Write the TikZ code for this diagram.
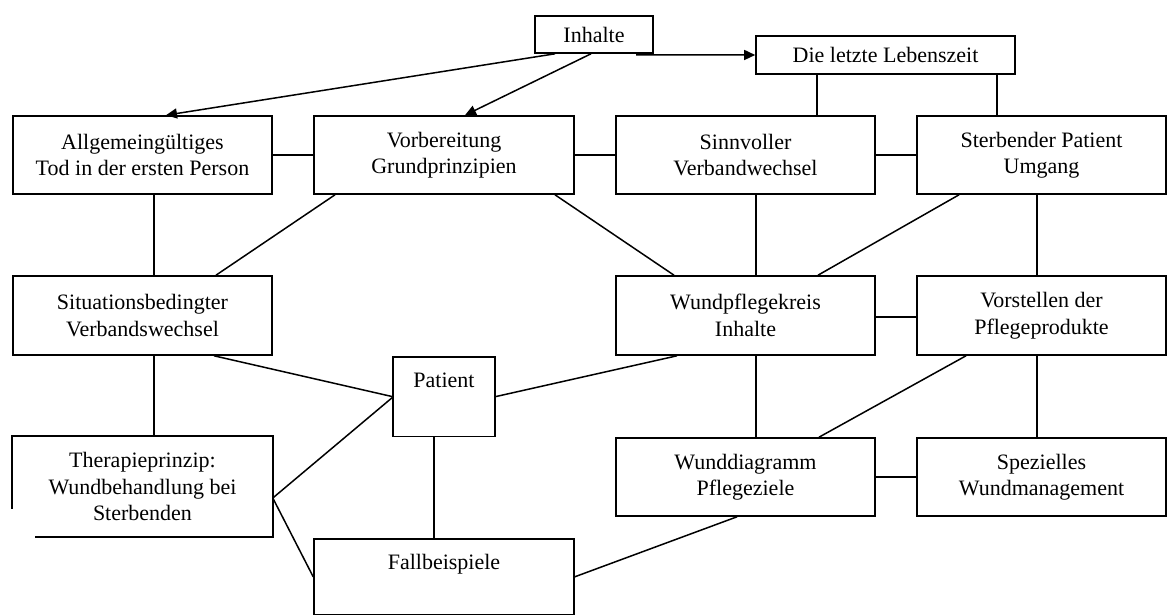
\documentclass[tikz,border=0pt]{standalone}
\usepackage{fontspec}
\setmainfont{Liberation Serif}
\usetikzlibrary{calc,arrows.meta}
\begin{document}
\begin{tikzpicture}[x=1pt,y=-1pt,
  box/.style={draw=black,line width=1.6pt,rectangle,inner sep=0pt,align=center,
    font=\fontsize{22}{26.5}\selectfont,minimum height=78pt},
  wide/.style={minimum width=259pt},
  conn/.style={line width=1.5pt,black},
  arr/.style={conn,-{Triangle[length=11pt,width=10pt]}}]
\useasboundingbox (0,0) rectangle (1168,615);
\fill[white] (0,0) rectangle (1168,615);
% nodes
\node[box,minimum width=118pt,minimum height=37pt] (inh) at (594,34.5) {Inhalte};
\node[box,minimum width=259pt,minimum height=38pt] (die) at (885.5,55) {Die letzte Lebenszeit};
\node[box,wide] (allg) at (142.5,155) {Allgemeingültiges\\Tod in der ersten Person};
\node[box,minimum width=260pt] (vorb) at (444,155) {Vorbereitung\\Grundprinzipien};
\node[box,wide] (sinn) at (745.5,155) {Sinnvoller\\Verbandwechsel};
\node[box,minimum width=249pt] (sterb) at (1041.5,155) {Sterbender Patient\\Umgang};
\node[box,wide,minimum height=79pt] (situ) at (142.5,315.5) {Situationsbedingter\\Verbandswechsel};
\node[box,wide,minimum height=79pt] (wundpf) at (745.5,315.5) {Wundpflegekreis\\Inhalte};
\node[box,minimum width=249pt,minimum height=79pt] (vorst) at (1041.5,315.5) {Vorstellen der\\Pflegeprodukte};
\node[box,draw=none,minimum width=100pt,minimum height=0pt,text height=30pt,text depth=48pt,anchor=north] (pat) at (444,357) {Patient};
\draw[line width=1.6pt] (pat.south west) rectangle (pat.north east);
\node[box,wide,draw=none,minimum height=99pt] (ther) at (142.5,486.5) {Therapieprinzip:\\Wundbehandlung bei\\Sterbenden};
\draw[line width=1.6pt] ($(ther.south west)+(0,-28)$) -- (ther.north west) -- (ther.north east) -- (ther.south east) -- ($(ther.south west)+(23,0)$);
\node[box,wide] (wdiag) at (745.5,477) {Wunddiagramm\\Pflegeziele};
\node[box,minimum width=249pt] (spez) at (1041.5,477) {Spezielles\\Wundmanagement};
\node[box,minimum width=260pt,minimum height=0pt,text height=31pt,text depth=45pt,anchor=north] (fall) at (444,538) {Fallbeispiele};
% arrows from Inhalte
\draw[arr] ([xshift=-39pt]inh.south) -- ([xshift=23.5pt]allg.north);
\draw[arr] ([xshift=-3pt]inh.south) -- ([xshift=21pt]vorb.north);
\draw[arr] ([xshift=42pt,yshift=-1pt]inh.south) -- (die.west);
% Die letzte Lebenszeit
\draw[conn] ([xshift=-68.5pt]die.south) -- ([xshift=-68.5pt]die.south |- sinn.north);
\draw[conn] ([xshift=111.5pt]die.south) -- ([xshift=111.5pt]die.south |- sterb.north);
% top row horizontals
\draw[conn] (allg.east) -- (vorb.west);
\draw[conn] (vorb.east) -- (sinn.west);
\draw[conn] (sinn.east) -- (sterb.west);
% verticals
\draw[conn] ([xshift=11.5pt]allg.south) -- ([xshift=11.5pt]situ.north);
\draw[conn] ([xshift=11.5pt]situ.south) -- ([xshift=11.5pt]ther.north);
\draw[conn] ([xshift=10.5pt]sinn.south) -- ([xshift=10.5pt]wundpf.north);
\draw[conn] ([xshift=10.5pt]wundpf.south) -- ([xshift=10.5pt]wdiag.north);
\draw[conn] ([xshift=-4.5pt]sterb.south) -- ([xshift=-4.5pt]vorst.north);
\draw[conn] ([xshift=-4.5pt]vorst.south) -- ([xshift=-4.5pt]spez.north);
\draw[conn] ([xshift=-10pt]pat.south) -- ([xshift=-10pt]fall.north);
% diagonals
\draw[conn] ([xshift=-109pt]vorb.south) -- ([xshift=73.5pt]situ.north);
\draw[conn] ([xshift=111pt]vorb.south) -- ([xshift=-71.5pt]wundpf.north);
\draw[conn] ([xshift=-82.5pt]sterb.south) -- ([xshift=72.5pt]wundpf.north);
\draw[conn] ([xshift=71.5pt]situ.south) -- (pat.west);
\draw[conn] ([yshift=-11.5pt]ther.east) -- (pat.west);
\draw[conn] ([yshift=-11.5pt]ther.east) -- (fall.west);
\draw[conn] (pat.east) -- ([xshift=-68.5pt]wundpf.south);
\draw[conn] ([xshift=-75.5pt]vorst.south) -- ([xshift=73.5pt]wdiag.north);
\draw[conn] (fall.east) -- ([xshift=-8.5pt]wdiag.south);
% other horizontals
\draw[conn] ([yshift=-1.5pt]wundpf.east) -- ([yshift=-1.5pt]vorst.west);
\draw[conn] (wdiag.east) -- (spez.west);
\end{tikzpicture}
\end{document}
